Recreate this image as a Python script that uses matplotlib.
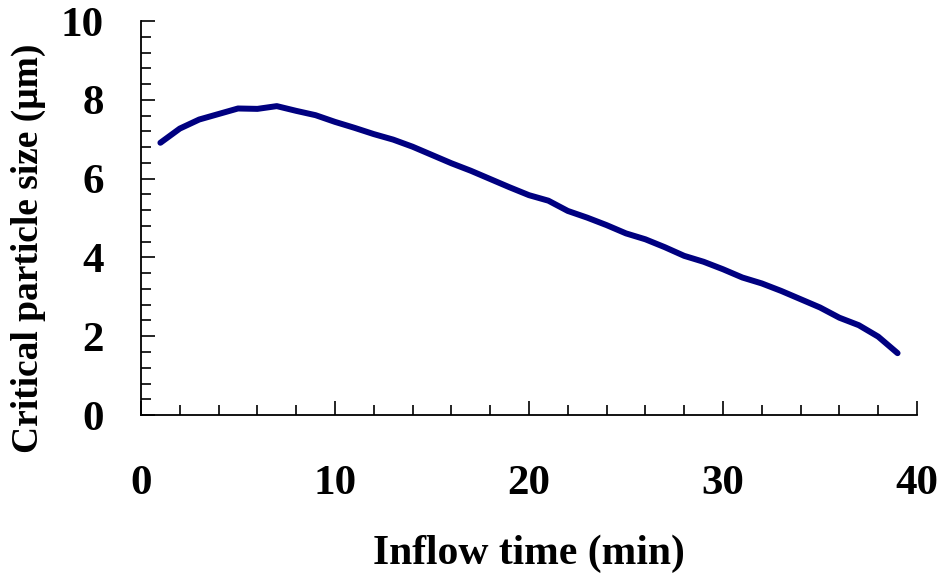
import matplotlib
matplotlib.use('Agg')
from matplotlib import pyplot as plt
from matplotlib.ticker import MultipleLocator

# inflow time (min) and critical particle size (um)
time_min = list(range(1, 40))
particle_size = [6.91, 7.27, 7.50, 7.64, 7.78, 7.77, 7.84, 7.72, 7.61, 7.44,
                 7.29, 7.13, 6.99, 6.81, 6.60, 6.39, 6.20, 5.99, 5.78, 5.58,
                 5.44, 5.18, 5.01, 4.82, 4.61, 4.46, 4.26, 4.04, 3.89, 3.70,
                 3.49, 3.34, 3.15, 2.94, 2.73, 2.47, 2.28, 1.99, 1.57]

plt.rcParams['font.family'] = 'Liberation Serif'
plt.rcParams['font.weight'] = 'bold'

fig = plt.figure(figsize=(9.4, 5.79), dpi=100)
ax = fig.add_axes([0.15, 0.2832, 0.8255, 0.6805])

ax.plot(time_min, particle_size, c='#000080', lw=4.3, solid_capstyle='round',
        solid_joinstyle='round')

ax.set_xlim(0, 40)
ax.set_ylim(0, 10)
ax.xaxis.set_major_locator(MultipleLocator(10))
ax.xaxis.set_minor_locator(MultipleLocator(2))
ax.yaxis.set_major_locator(MultipleLocator(2))
ax.yaxis.set_minor_locator(MultipleLocator(0.4))
ax.spines['top'].set_visible(False)
ax.spines['right'].set_visible(False)
for s in ('left', 'bottom'):
    ax.spines[s].set_linewidth(1.3)
ax.tick_params(which='both', direction='in', width=1.2, labelsize=31)
ax.tick_params(which='major', length=10)
ax.tick_params(which='minor', length=7)
ax.tick_params(axis='x', which='major', pad=36)
ax.tick_params(axis='y', which='major', pad=27)

ax.set_xlabel('Inflow time (min)', fontsize=30, fontweight='bold', labelpad=23)
ax.set_ylabel('Critical particle size (\u03bcm)', fontsize=27, fontweight='bold')
ax.yaxis.set_label_coords(-0.123, 0.424)

fig.savefig('out.png', dpi=100)
